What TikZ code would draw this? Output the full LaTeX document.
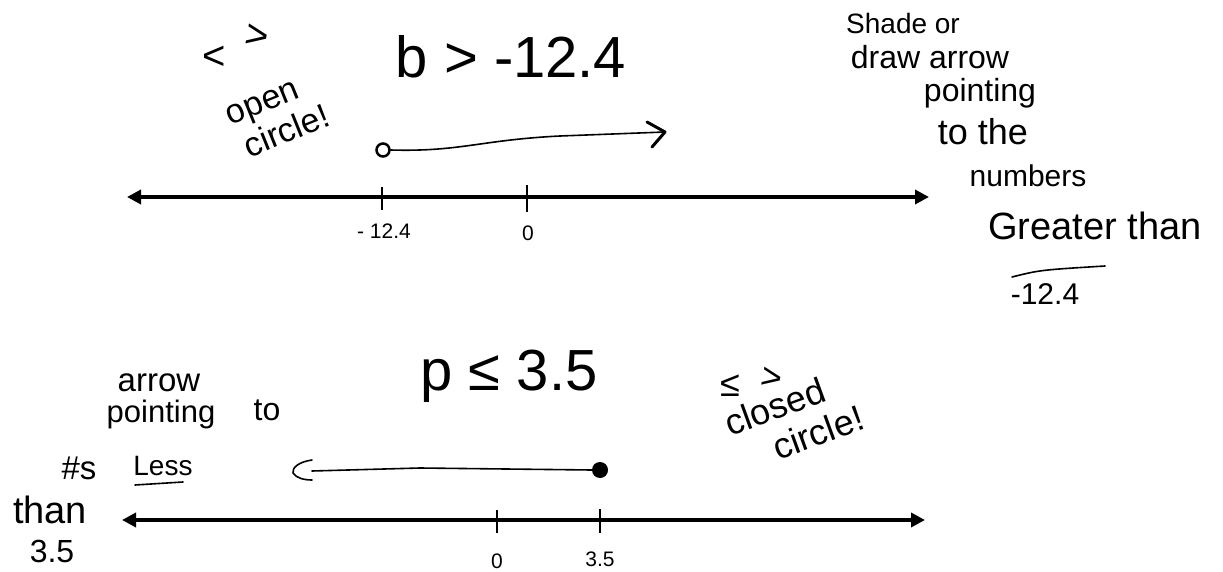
\documentclass[tikz,border=0pt]{standalone}
\usepackage{fontspec}
\setmainfont{Liberation Sans}
\usetikzlibrary{arrows.meta}
\begin{document}
\begin{tikzpicture}[x=1pt,y=-1pt,
  numline/.style={line width=4.5pt,{Triangle[length=14pt,width=14pt]}-{Triangle[length=14pt,width=14pt]}},
  tickmark/.style={line width=2.5pt},
  thinpen/.style={line width=1.6pt,line cap=round,line join=round},
  thickpen/.style={line width=3pt,line cap=round,line join=round},
  title/.style={font=\fontsize{58}{60}\selectfont,anchor=base,inner sep=0pt},
  hand/.style={font=\fontsize{#1}{#1}\selectfont,inner sep=0pt},
  hand/.default=24,
  note/.style={font=\fontsize{34}{37}\selectfont,align=left,inner sep=0pt}]
\useasboundingbox (0,0) rectangle (1223,572);
% ---------- top ----------
\node[title] (t1) at (511,78) {b > -12.4};
\coordinate (a1L) at (127,197);
\coordinate (a1R) at (929,197);
\draw[numline] (a1L) -- (a1R);
\coordinate (k1a) at (382,197);
\coordinate (k1b) at (527,197);
\draw[tickmark] ([yshift=-13pt]k1a) -- ([yshift=10pt]k1a);
\draw[tickmark] ([yshift=-15pt]k1b) -- ([yshift=12pt]k1b);
\node[hand=21] (l1a) at (384,231) {- 12.4};
\node[hand=21] (l1b) at (528,233) {0};
\node[draw,circle,line width=2.5pt,minimum size=13pt,inner sep=0pt] (oc) at (383,150) {};
\coordinate (tip1) at (665,132);
\draw[thinpen] (oc.east) .. controls (460,152) and (480,140) .. (560,136) -- (tip1);
\draw[thickpen] (647,122) -- (tip1) -- (652,147);
% notes top-left
\node[hand=40] (lt1) at (214,58) {<};
\node[hand=40,rotate=-10] (gt1) at (257,37) {>};
\node[note,rotate=22] (opnote) at (278,117) {open\\\hspace*{5pt}circle!};
% notes right
\node[hand=28] (r1) at (903,23) {Shade or};
\node[hand=32] (r2) at (930,57) {draw arrow};
\node[hand=32] (r3) at (980,93) {pointing};
\node[hand=36] (r4) at (983,132) {to the};
\node[hand=30] (r5) at (1028,176) {numbers};
\node[hand=38] (r6) at (1095,226) {Greater than};
\draw[thinpen] (1012,277) .. controls (1040,270) .. (1105,266);
\node[hand=30] (r7) at (1045,294) {-12.4};
% ---------- bottom ----------
\node[title] (t2) at (509,390) {p ≤ 3.5};
\coordinate (a2L) at (122,520);
\coordinate (a2R) at (925,520);
\draw[numline] (a2L) -- (a2R);
\coordinate (k2a) at (497,520);
\coordinate (k2b) at (600,520);
\draw[tickmark] ([yshift=-13pt]k2a) -- ([yshift=10pt]k2a);
\draw[tickmark] ([yshift=-13pt]k2b) -- ([yshift=11pt]k2b);
\node[hand=21] (l2a) at (497,561) {0};
\node[hand=21] (l2b) at (600,559) {3.5};
\node[circle,fill,minimum size=16pt,inner sep=0pt] (cc) at (600,470) {};
\coordinate (tip2) at (293,473);
\draw[thinpen] (cc.west) -- (420,468) -- (312,471);
\draw[thinpen] (312,460) .. controls (298,462) and (292,468) .. (tip2) .. controls (296,478) and (304,480) .. (312,480);
% notes bottom-left
\node[hand=33] (b1) at (159,383) {arrow};
\node[hand=31] (b2) at (161,414) {pointing};
\node[hand=32] (b3) at (267,410) {to};
\node[hand=33] (b4) at (79,468) {\#s};
\node[hand=28] (b5) at (163,466) {Less};
\draw[thinpen] (135,485) -- (183,482);
\node[hand=38] (b6) at (50,510) {than};
\node[hand=32] (b7) at (52,551) {3.5};
% notes bottom-right
\node[hand=36] (le2) at (730,386) {≤};
\node[hand=36,rotate=-10] (gt2) at (772,379) {>};
\node[note,font=\fontsize{36}{39}\selectfont,rotate=20] (clnote) at (794,420) {closed\\\hspace*{37pt}circle!};
\end{tikzpicture}
\end{document}
